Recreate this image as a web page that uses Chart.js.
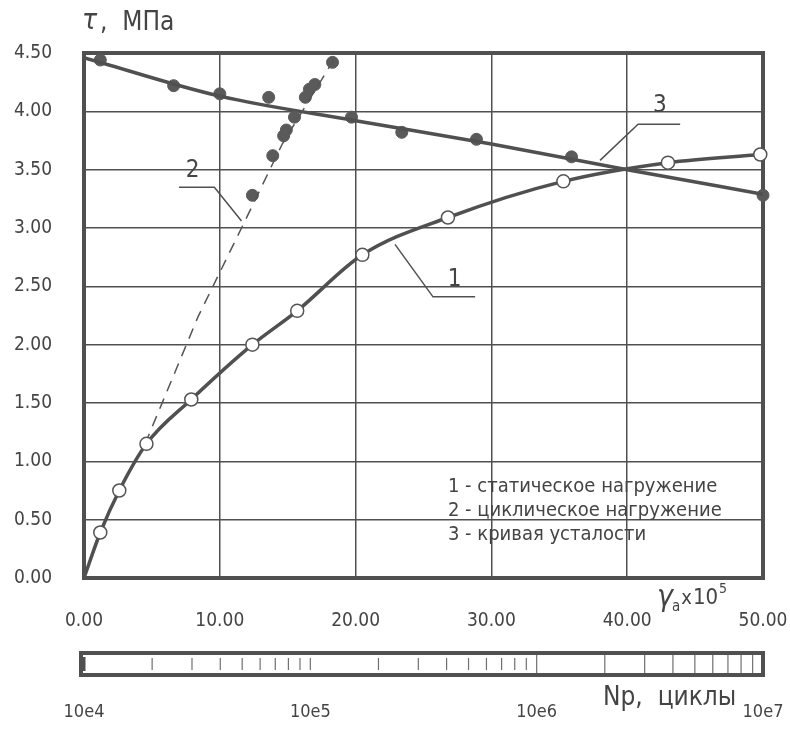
<!DOCTYPE html>
<html>
<head>
<meta charset="utf-8">
<script src="https://cdn.jsdelivr.net/npm/chart.js@4.4.1/dist/chart.umd.min.js"></script>
<style>
  html, body { margin: 0; padding: 0; background: #fff; }
</style>
</head>
<body>
<canvas id="tauChart" width="790" height="731"></canvas>
<script>
// curve 1 - static loading (open circles)
const staticX = [0, 1.2, 2.6, 4.6, 7.9, 12.4, 15.7, 20.5, 26.8, 35.3, 43.0, 49.8];
const staticY = [0, 0.39, 0.75, 1.15, 1.53, 2.00, 2.29, 2.77, 3.09, 3.40, 3.56, 3.63];

// curve 2 - cyclic loading (dashed line + filled dots)
const cyclicLineX = [4.5, 8.4, 11.6, 14.6, 18.7];
const cyclicLineY = [1.15, 2.24, 3.00, 3.72, 4.50];
const cyclicX = [12.4, 13.9, 14.7, 14.9, 15.5, 16.3, 16.6, 17.0, 18.3];
const cyclicY = [3.28, 3.62, 3.79, 3.84, 3.95, 4.12, 4.19, 4.23, 4.42];

// curve 3 - fatigue curve (line + filled dots)
const fatigueLineX = [0, 10, 20, 30, 40, 50];
const fatigueLineY = [4.46, 4.13, 3.92, 3.72, 3.50, 3.29];
const fatigueX = [1.2, 6.6, 10.0, 13.6, 19.7, 23.4, 28.9, 35.9, 50.0];
const fatigueY = [4.44, 4.22, 4.15, 4.12, 3.95, 3.82, 3.76, 3.61, 3.28];

// cycles scale (log bar under the chart)
const cycleDecades = [1e4, 1e5, 1e6, 1e7];
const cycleLabels = ['10e4', '10e5', '10e6', '10e7'];
const barTicks = [2e4, 3e4, 4e4, 5e4, 6e4, 7e4, 8e4, 9e4,
                  1e5, 2e5, 3e5, 4e5, 5e5, 6e5, 7e5, 8e5, 9e5,
                  1e6, 2e6, 3e6, 4e6, 5e6, 6e6, 7e6, 8e6, 9e6];

const legendLines = ['1 - статическое нагружение', '2 - циклическое нагружение', '3 - кривая усталости'];

// numbered callouts: text anchor and leader path in data units
const callouts = [
  { text: '1', at: [27.3, 2.56], path: [[22.9, 2.86], [25.7, 2.41], [28.8, 2.41]] },
  { text: '2', at: [8.0, 3.49], path: [[7.0, 3.35], [9.6, 3.35], [11.6, 3.06]] },
  { text: '3', at: [42.4, 4.05], path: [[38.0, 3.58], [40.8, 3.89], [43.9, 3.89]] }
];

const INK = '#505050';
const FONT = '"DejaVu Sans Condensed", "DejaVu Sans", sans-serif';

const pts = (xs, ys) => xs.map((v, i) => ({ x: v, y: ys[i] }));

const decor = {
  id: 'decor',
  beforeDatasetsDraw(chart) {
    const { ctx, chartArea: a } = chart;
    ctx.save();
    ctx.strokeStyle = INK;
    ctx.lineWidth = 4;
    ctx.strokeRect(a.left, a.top, a.right - a.left, a.bottom - a.top);
    ctx.restore();
  },
  afterDatasetsDraw(chart) {
    const { ctx, chartArea: a, scales } = chart;
    const x = scales.x, y = scales.y, n = scales.n;
    ctx.save();
    ctx.strokeStyle = INK;
    ctx.fillStyle = '#444';
    ctx.lineWidth = 1.5;

    // callouts
    ctx.font = '24px ' + FONT;
    ctx.textAlign = 'center';
    ctx.textBaseline = 'middle';
    callouts.forEach(c => {
      ctx.beginPath();
      c.path.forEach((p, i) => {
        const px = x.getPixelForValue(p[0]), py = y.getPixelForValue(p[1]);
        if (i) ctx.lineTo(px, py); else ctx.moveTo(px, py);
      });
      ctx.stroke();
      ctx.fillText(c.text, x.getPixelForValue(c.at[0]), y.getPixelForValue(c.at[1]));
    });

    // legend text
    ctx.font = '20px ' + FONT;
    ctx.textAlign = 'left';
    legendLines.forEach((t, i) => {
      ctx.fillText(t, x.getPixelForValue(26.8), y.getPixelForValue(0.78 - i * 0.205));
    });

    // y title
    ctx.textBaseline = 'middle';
    ctx.font = 'italic 28px ' + FONT;
    ctx.fillText('τ', a.left - 2, 22);
    ctx.font = '26px ' + FONT;
    ctx.fillText(',  МПа', a.left + 16, 23);

    // x title  γa x 10^5
    let tx = a.right - 106;
    ctx.font = 'italic 30px ' + FONT;
    ctx.fillText('γ', tx, a.bottom + 20);
    tx += ctx.measureText('γ').width;
    ctx.font = '15px ' + FONT;
    ctx.fillText('a', tx - 1, a.bottom + 29);
    tx += ctx.measureText('a').width;
    ctx.font = '20px ' + FONT;
    ctx.fillText('x', tx, a.bottom + 21);
    tx += ctx.measureText('x').width + 1;
    ctx.font = '22px ' + FONT;
    ctx.fillText('10', tx, a.bottom + 20);
    tx += ctx.measureText('10').width + 1;
    ctx.font = '14px ' + FONT;
    ctx.fillText('5', tx, a.bottom + 11);

    // cycles bar
    const bx0 = n.getPixelForValue(cycleDecades[0]) - 3;
    const bx1 = n.getPixelForValue(cycleDecades[cycleDecades.length - 1]);
    const by0 = a.bottom + 75, by1 = a.bottom + 97;
    ctx.strokeStyle = '#707070';
    ctx.lineWidth = 1.2;
    barTicks.forEach(v => {
      const px = n.getPixelForValue(v);
      const short = v < 1e6;
      ctx.beginPath();
      ctx.moveTo(px, by0 + (short ? 5 : 2));
      ctx.lineTo(px, by1 - (short ? 5 : 2));
      ctx.stroke();
    });
    ctx.strokeStyle = INK;
    ctx.lineWidth = 4;
    ctx.strokeRect(bx0, by0, bx1 - bx0, by1 - by0);
    ctx.lineWidth = 3;
    ctx.beginPath();
    ctx.moveTo(n.getPixelForValue(cycleDecades[0]), by0 + 4);
    ctx.lineTo(n.getPixelForValue(cycleDecades[0]), by1 - 4);
    ctx.stroke();

    // cycles title
    ctx.font = '26px ' + FONT;
    ctx.textAlign = 'left';
    ctx.fillText('Nр,  циклы', a.right - 160, a.bottom + 120);
    ctx.restore();
  }
};

const tickFont = { family: FONT, size: 19 };

// keep the horizontal axes from adding side padding for their labels
const noSidePad = s => { s.paddingLeft = 0; s.paddingRight = 0; };

new Chart(document.getElementById('tauChart'), {
  type: 'scatter',
  data: {
    datasets: [
      {
        label: 'статическое нагружение',
        data: pts(staticX, staticY),
        showLine: true,
        tension: 0.4,
        cubicInterpolationMode: 'monotone',
        borderColor: INK,
        borderWidth: 3.5,
        backgroundColor: '#fff',
        pointBorderColor: '#555',
        pointBorderWidth: 1.5,
        pointRadius: staticX.map((v, i) => (i === 0 ? 0 : 6.5)),
        clip: false
      },
      {
        label: 'циклическое нагружение',
        data: pts(cyclicLineX, cyclicLineY),
        showLine: true,
        borderColor: '#555',
        borderWidth: 1.5,
        borderDash: [11, 8],
        pointRadius: 0
      },
      {
        label: 'циклическое нагружение точки',
        data: pts(cyclicX, cyclicY),
        backgroundColor: '#5a5a5a',
        borderColor: '#5a5a5a',
        pointRadius: 6,
        clip: false
      },
      {
        label: 'кривая усталости',
        data: pts(fatigueLineX, fatigueLineY),
        showLine: true,
        tension: 0.4,
        cubicInterpolationMode: 'monotone',
        borderColor: INK,
        borderWidth: 3.5,
        pointRadius: 0
      },
      {
        label: 'кривая усталости точки',
        data: pts(fatigueX, fatigueY),
        backgroundColor: '#5a5a5a',
        borderColor: '#5a5a5a',
        pointRadius: 6,
        clip: false
      }
    ]
  },
  options: {
    responsive: false,
    animation: false,
    layout: { padding: { top: 53, right: 27, left: 0, bottom: 0 } },
    plugins: {
      legend: { display: false },
      tooltip: { enabled: false }
    },
    scales: {
      x: {
        type: 'linear',
        position: 'bottom',
        weight: 0,
        min: 0,
        max: 50,
        ticks: {
          stepSize: 10,
          padding: 32,
          color: '#444',
          font: tickFont,
          callback: v => v.toFixed(2)
        },
        grid: { color: INK, lineWidth: 1.5, drawTicks: false },
        border: { display: false },
        afterFit: s => { s.height = 60; noSidePad(s); }
      },
      n: {
        type: 'logarithmic',
        position: 'bottom',
        weight: 1,
        min: cycleDecades[0],
        max: cycleDecades[cycleDecades.length - 1],
        afterBuildTicks: s => { s.ticks = cycleDecades.map(v => ({ value: v })); },
        ticks: {
          padding: 64,
          color: '#444',
          autoSkip: false,
          maxRotation: 0,
          font: { family: FONT, size: 18 },
          callback: v => cycleLabels[cycleDecades.indexOf(v)]
        },
        grid: { display: false, drawTicks: false },
        border: { display: false },
        afterFit: s => { s.height = 93; noSidePad(s); }
      },
      y: {
        min: 0,
        max: 4.5,
        ticks: {
          stepSize: 0.5,
          padding: 32,
          color: '#444',
          font: tickFont,
          callback: v => v.toFixed(2)
        },
        grid: { color: INK, lineWidth: 1.5, drawTicks: false },
        border: { display: false },
        afterFit: s => { s.width = 84; }
      }
    }
  },
  plugins: [decor]
});
</script>
</body>
</html>
